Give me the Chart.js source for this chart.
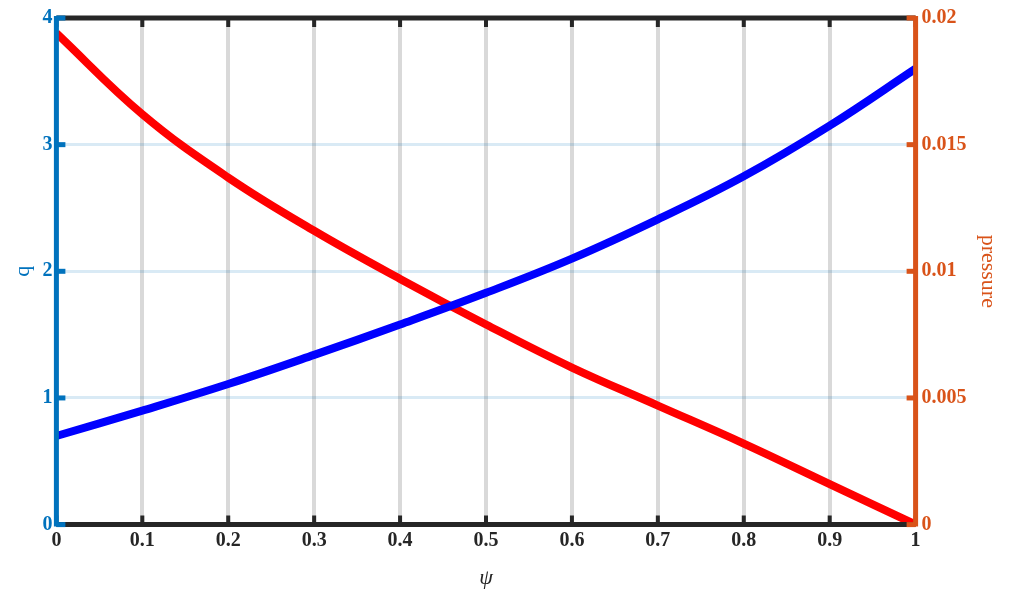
<!DOCTYPE html>
<html><head><meta charset="utf-8">
<script src="https://cdn.jsdelivr.net/npm/chart.js@4"></script>
<style>html,body{margin:0;background:#fff}#w{width:1013px;height:597px}</style>
</head><body><div id="w"><canvas id="c"></canvas></div>
<script>
const psi = [0,0.1,0.2,0.3,0.4,0.5,0.6,0.7,0.8,0.9,1];
const qVals = [0.7,0.9,1.11,1.34,1.58,1.83,2.1,2.41,2.75,3.15,3.6];
const pressureVals = [0.0194,0.0162,0.0137,0.0116,0.0097,0.0079,0.0062,0.0047,0.0032,0.0016,0];
const xTicks = [0,0.1,0.2,0.3,0.4,0.5,0.6,0.7,0.8,0.9,1];
const BLUE='#0072BD', ORANGE='#D95319';
const font={family:'Liberation Serif',size:20,weight:'bold'};
const frame={id:'frame',afterDatasetsDraw(ch){
  const {ctx,chartArea:a,scales}=ch;ctx.save();
  ctx.lineCap='butt';
  ctx.strokeStyle='#262626';ctx.lineWidth=5;
  ctx.beginPath();ctx.moveTo(a.left,a.top);ctx.lineTo(a.right,a.top);ctx.moveTo(a.left,a.bottom);ctx.lineTo(a.right,a.bottom);ctx.stroke();
  ctx.lineWidth=4;
  xTicks.forEach(v=>{const x=scales.x.getPixelForValue(v);ctx.beginPath();ctx.moveTo(x,a.top);ctx.lineTo(x,a.top+9);ctx.moveTo(x,a.bottom);ctx.lineTo(x,a.bottom-9);ctx.stroke();});
  ctx.strokeStyle=BLUE;ctx.lineWidth=5;ctx.beginPath();ctx.moveTo(a.left,a.top-2);ctx.lineTo(a.left,a.bottom+2);ctx.stroke();
  [0,1,2,3,4].forEach(v=>{const y=scales.y.getPixelForValue(v);ctx.beginPath();ctx.moveTo(a.left,y);ctx.lineTo(a.left+9,y);ctx.stroke();});
  ctx.strokeStyle=ORANGE;ctx.beginPath();ctx.moveTo(a.right,a.top-2);ctx.lineTo(a.right,a.bottom+2);ctx.stroke();
  [0,0.005,0.01,0.015,0.02].forEach(v=>{const y=scales.y2.getPixelForValue(v);ctx.beginPath();ctx.moveTo(a.right,y);ctx.lineTo(a.right-9,y);ctx.stroke();});
  ctx.restore();}};
new Chart(document.getElementById('c'),{type:'line',
 data:{datasets:[
  {data:psi.map((x,i)=>({x,y:qVals[i]})),borderColor:'#0000FF',borderWidth:8,pointRadius:0,tension:0.4,yAxisID:'y'},
  {data:psi.map((x,i)=>({x,y:pressureVals[i]})),borderColor:'#FF0000',borderWidth:8,pointRadius:0,tension:0.4,yAxisID:'y2'}]},
 options:{responsive:true,maintainAspectRatio:false,animation:false,
  layout:{padding:{top:15,right:10,left:8,bottom:6}},
  plugins:{legend:{display:false},tooltip:{enabled:false}},
  scales:{
   x:{type:'linear',min:0,max:1,afterBuildTicks:s=>{s.ticks=xTicks.map(v=>({value:v}));},
      ticks:{font,color:'#262626',padding:4,callback:v=>String(+v.toFixed(1))},
      grid:{color:'rgba(180,180,180,0.5)',lineWidth:4,drawTicks:false},border:{display:false},
      title:{display:true,text:'ψ',font:{family:'Liberation Serif',size:22,style:'italic'},color:'#262626',padding:{top:8,bottom:0}}},
   y:{position:'left',min:0,max:4,ticks:{stepSize:1,font,color:BLUE,padding:4},
      grid:{color:ctx=>(ctx.tick.value>0&&ctx.tick.value<4)?'rgba(0,114,189,0.15)':'transparent',lineWidth:3,drawTicks:false},border:{display:false},
      title:{display:true,text:'q',font:{family:'Liberation Serif',size:22},color:BLUE,padding:2}},
   y2:{position:'right',min:0,max:0.02,ticks:{stepSize:0.005,font,color:ORANGE,padding:6,callback:v=>String(+v.toFixed(3))},
      grid:{drawOnChartArea:false,drawTicks:false},border:{display:false},
      title:{display:true,text:'pressure',font:{family:'Liberation Serif',size:22},color:ORANGE,padding:2}}
  }},plugins:[frame]});
</script></body></html>
